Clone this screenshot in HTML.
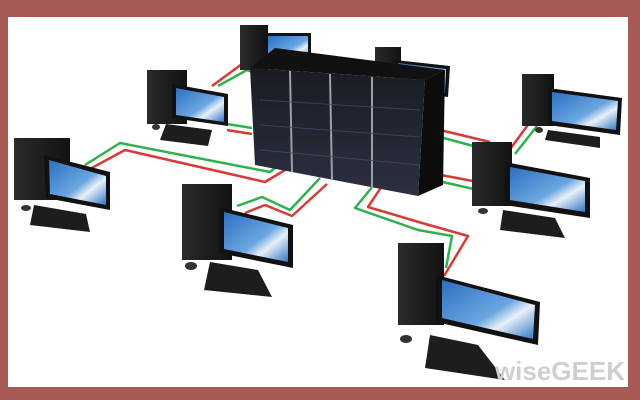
<!DOCTYPE html><html><head><style>html,body{margin:0;padding:0;background:#a85b56}svg{display:block}</style></head><body>
<svg width="640" height="400" viewBox="0 0 640 400" xmlns="http://www.w3.org/2000/svg">
<defs>
<linearGradient id="scr" x1="0" y1="0" x2="1" y2="1"><stop offset="0" stop-color="#2a6fc0"/><stop offset="0.55" stop-color="#6aa6e0"/><stop offset="0.7" stop-color="#e8f0f8"/><stop offset="1" stop-color="#2f76c6"/></linearGradient>
<linearGradient id="tw" x1="0" y1="0" x2="1" y2="0"><stop offset="0" stop-color="#2a2a2a"/><stop offset="1" stop-color="#121212"/></linearGradient>
<linearGradient id="rk" x1="0" y1="0" x2="0" y2="1"><stop offset="0" stop-color="#1a1c22"/><stop offset="1" stop-color="#2c3040"/></linearGradient>
</defs>
<rect x="8" y="17" width="620" height="370" fill="#fff"/>
<g fill="none" stroke-width="2.5" stroke-linejoin="round">
<polyline stroke="#2db34a" points="85,165 120,143 270,172 285,160"/>
<polyline stroke="#d83a35" points="88,170 125,150 265,182 285,170"/>
<polyline stroke="#2db34a" points="218,86 247,70 262,76"/>
<polyline stroke="#d83a35" points="212,86 242,64 256,70"/>
<polyline stroke="#2db34a" points="227,124 252,128"/>
<polyline stroke="#d83a35" points="227,130 252,134"/>
<polyline stroke="#2db34a" points="237,206 262,197 290,210 320,178"/>
<polyline stroke="#d83a35" points="245,213 265,205 292,216 327,184"/>
<polyline stroke="#2db34a" points="378,180 355,208 418,230 452,236 446,268"/>
<polyline stroke="#d83a35" points="386,180 368,207 422,223 468,236 444,276"/>
<polyline stroke="#d83a35" points="440,130 490,142"/>
<polyline stroke="#2db34a" points="440,137 488,150"/>
<polyline stroke="#d83a35" points="508,152 530,122"/>
<polyline stroke="#2db34a" points="515,154 537,126"/>
<polyline stroke="#d83a35" points="425,172 478,182"/>
<polyline stroke="#2db34a" points="425,178 478,190"/>
</g>
<!-- computers -->
<g id="c1"><rect x="240" y="25" width="28" height="45" fill="url(#tw)"/><rect x="265" y="33" width="46" height="30" fill="#111"/><rect x="268" y="36" width="40" height="24" fill="url(#scr)"/></g>
<g><rect x="375" y="47" width="26" height="20" fill="url(#tw)"/><polygon points="395,60 450,66 448,97 395,90" fill="#111"/><polygon points="398,63 446,69 445,93 398,87" fill="url(#scr)"/></g>
<g><rect x="147" y="70" width="40" height="54" fill="url(#tw)"/><polygon points="172,84 228,94 228,126 172,118" fill="#111"/><polygon points="176,88 224,97 224,122 176,115" fill="url(#scr)"/><polygon points="166,124 212,130 208,146 160,140" fill="#1d1d1d"/><ellipse cx="156" cy="127" rx="4" ry="3" fill="#333"/></g>
<g><rect x="14" y="138" width="56" height="62" fill="url(#tw)"/><polygon points="44,155 110,172 110,210 46,198" fill="#111"/><polygon points="49,160 106,176 106,205 50,194" fill="url(#scr)"/><polygon points="34,205 86,214 90,232 30,225" fill="#1d1d1d"/><ellipse cx="26" cy="208" rx="5" ry="3" fill="#333"/></g>
<g><rect x="182" y="184" width="50" height="76" fill="url(#tw)"/><polygon points="219,207 293,225 293,268 219,253" fill="#111"/><polygon points="224,212 288,228 288,262 224,249" fill="url(#scr)"/><polygon points="210,262 258,270 272,297 204,290" fill="#1d1d1d"/><ellipse cx="191" cy="266" rx="6" ry="4" fill="#333"/></g>
<g><rect x="522" y="74" width="32" height="52" fill="url(#tw)"/><polygon points="548,88 622,98 620,135 548,125" fill="#111"/><polygon points="552,92 618,101 616,130 552,121" fill="url(#scr)"/><polygon points="548,130 600,137 600,148 545,140" fill="#1d1d1d"/><ellipse cx="539" cy="130" rx="4" ry="3" fill="#333"/></g>
<g><rect x="472" y="142" width="40" height="64" fill="url(#tw)"/><polygon points="505,162 590,178 590,218 505,205" fill="#111"/><polygon points="510,167 585,181 585,212 510,200" fill="url(#scr)"/><polygon points="503,210 555,218 565,238 500,230" fill="#1d1d1d"/><ellipse cx="483" cy="211" rx="5" ry="3" fill="#333"/></g>
<g><rect x="398" y="243" width="46" height="82" fill="url(#tw)"/><polygon points="436,275 540,302 538,345 436,322" fill="#111"/><polygon points="442,280 535,305 533,339 442,318" fill="url(#scr)"/><polygon points="430,335 478,345 505,380 425,368" fill="#1d1d1d"/><ellipse cx="406" cy="339" rx="6" ry="4" fill="#333"/></g>
<!-- server -->
<polygon points="250,68 275,48 445,70 425,80" fill="#111"/>
<polygon points="425,80 445,70 443,185 418,196" fill="#0c0c0c"/>
<polygon points="250,68 425,80 418,196 255,165" fill="url(#rk)"/>
<g stroke="#9aa0a8" stroke-width="2"><line x1="290" y1="71" x2="292" y2="172"/><line x1="330" y1="74" x2="332" y2="180"/><line x1="372" y1="77" x2="372" y2="188"/></g>
<g stroke="#3a4a66" stroke-width="1" opacity="0.8"><line x1="260" y1="100" x2="420" y2="110"/><line x1="260" y1="125" x2="420" y2="137"/><line x1="260" y1="150" x2="420" y2="165"/></g>
<text x="625" y="380" text-anchor="end" font-family="Liberation Sans, sans-serif" font-size="26" font-weight="bold" fill="#cfcfcf">wiseGEEK</text>
</svg></body></html>
